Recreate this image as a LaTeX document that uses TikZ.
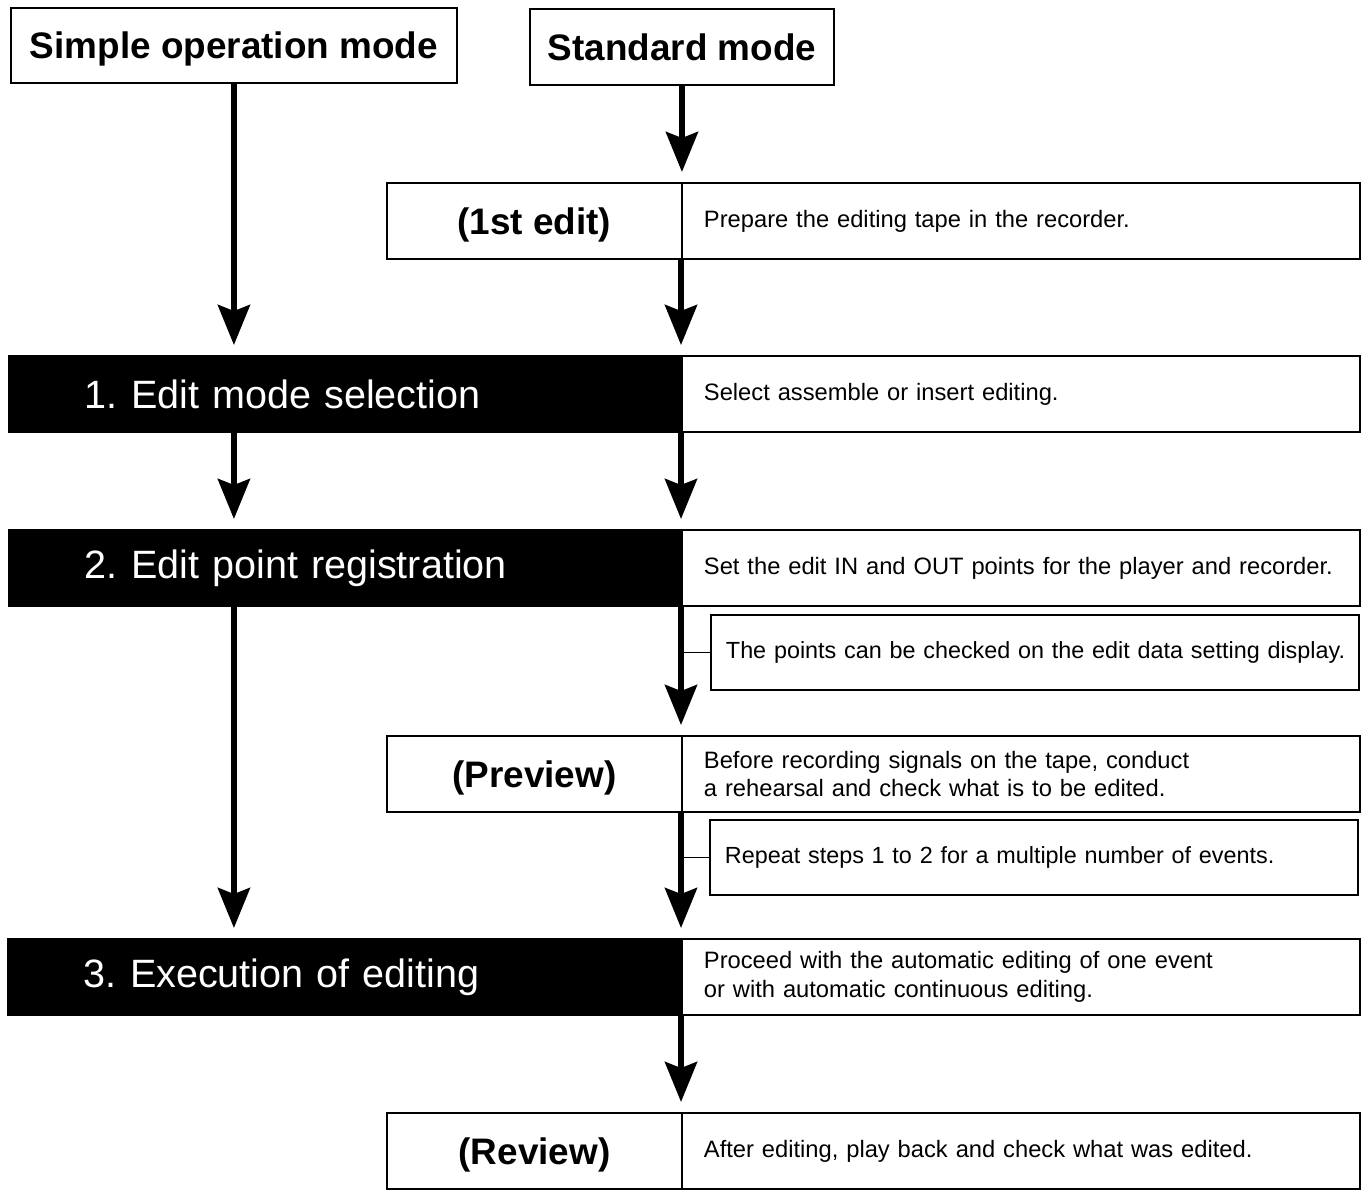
\documentclass[tikz,border=0pt]{standalone}
\usepackage{fontspec}
\setmainfont{Liberation Sans}
\usetikzlibrary{arrows.meta}
\tikzset{
  modebox/.style={draw,line width=1.1pt,anchor=north west,inner sep=0pt,
    text height=15.3pt,text depth=0pt,
    minimum height=1.52cm,font=\fontsize{21}{25}\selectfont\bfseries},
  labelbox/.style={modebox,minimum width=5.9cm},
  stepbox/.style={draw=black,fill=black,text=white,line width=1.1pt,anchor=north west,
    inner ysep=0pt,inner xsep=1.52cm,text width=10.42cm,align=left,
    minimum height=1.52cm,font=\fontsize{22.5}{26}\selectfont},
  descbox/.style={draw,line width=1.1pt,anchor=north west,inner ysep=0pt,
    inner xsep=0.44cm,text width=12.68cm,align=left,minimum height=1.52cm,
    font=\fontsize{13.5}{16.4}\selectfont},
  notebox/.style={descbox,inner xsep=0.3cm,text width=12.36cm,minimum height=1.5cm,
    font=\fontsize{13.3}{16}\selectfont},
  flow/.style={line width=3.4pt,-{Stealth[length=0.8cm,width=0.64cm,inset=0.12cm]},
    shorten >=0.2cm},
  tick/.style={line width=1.1pt}
}
\begin{document}
\frenchspacing
\begin{tikzpicture}[x=0.02cm,y=-0.02cm]
\useasboundingbox (0,0) rectangle (1361,1190);
% the two modes
\node[modebox,minimum width=8.92cm,minimum height=1.5cm] (simple) at (10,7) {Simple operation mode};
\node[modebox,minimum width=6.08cm] (standard) at (529,8) {Standard mode};
% rows
\node[labelbox] (first) at (386,182) {(1st edit)};
\node[descbox] (firstd) at (681,182) {Prepare the editing tape in the recorder.};
\node[stepbox] (s1) at (8,355) {1. Edit mode selection};
\node[descbox] (s1d) at (681,355) {Select assemble or insert editing.};
\node[stepbox] (s2) at (8,529) {2. Edit point registration};
\node[descbox] (s2d) at (681,529) {Set the edit IN and OUT points for the player and recorder.};
\node[notebox,minimum width=12.96cm] (note1) at (710,614) {\mbox{The points can be checked on the edit data setting display.}};
\node[labelbox] (preview) at (386,735) {(Preview)};
\node[descbox] (previewd) at (681,735) {Before recording signals on the tape, conduct\\a rehearsal and check what is to be edited.};
\node[notebox] (note2) at (709,819) {Repeat steps 1 to 2 for a multiple number of events.};
\node[stepbox] (s3) at (7,938) {3. Execution of editing};
\node[descbox] (s3d) at (681,938) {Proceed with the automatic editing of one event\\or with automatic continuous editing.};
\node[labelbox] (review) at (386,1112) {(Review)};
\node[descbox] (reviewd) at (681,1112) {After editing, play back and check what was edited.};
% left column
\draw[flow] (simple.south) -- (simple.south |- s1.north);
\draw[flow] (simple.south |- s1.south) -- (simple.south |- s2.north);
\draw[flow] (simple.south |- s2.south) -- (simple.south |- s3.north);
% right column
\draw[flow] (standard.south) -- (standard.south |- first.north);
\draw[flow] (firstd.south west) -- (firstd.south west |- s1.north);
\draw[flow] (s1d.south west) -- (s1d.south west |- s2.north);
\draw[flow] (s2d.south west) -- (s2d.south west |- preview.north);
\draw[tick] (note1.west) -- (note1.west -| s2d.south west);
\draw[flow] (previewd.south west) -- (previewd.south west |- s3.north);
\draw[tick] (note2.west) -- (note2.west -| previewd.south west);
\draw[flow] (s3d.south west) -- (s3d.south west |- review.north);
\end{tikzpicture}
\end{document}
